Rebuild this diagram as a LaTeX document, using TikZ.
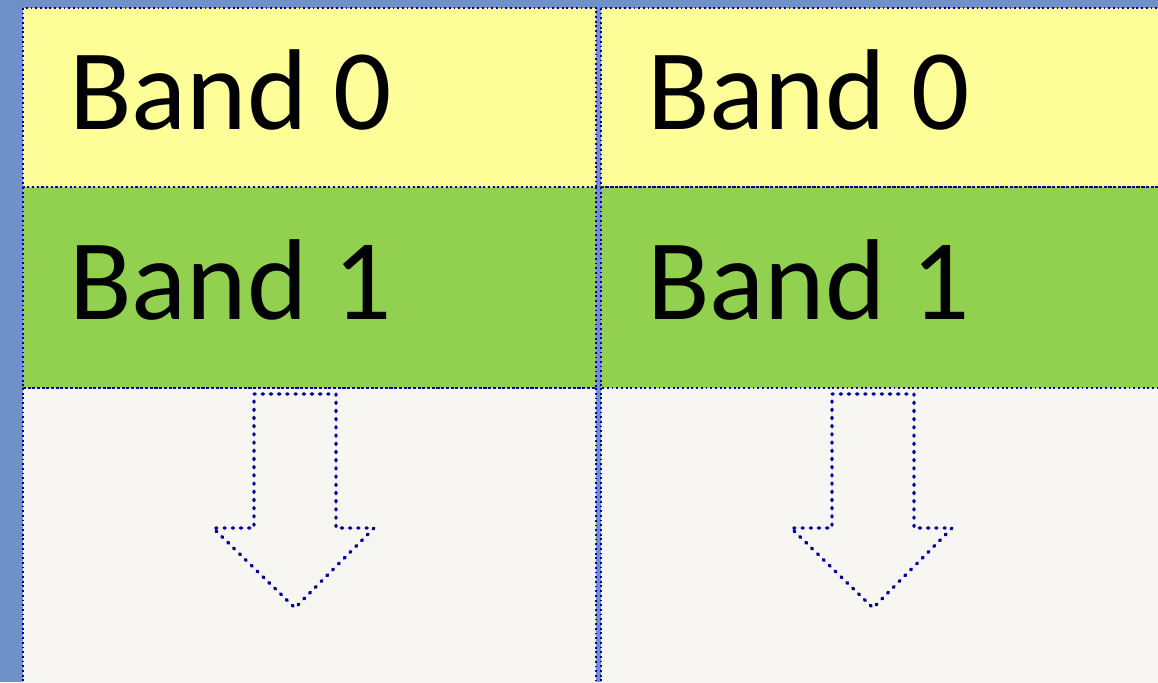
\documentclass[tikz,border=0pt]{standalone}
\usepackage{fontspec}
\setmainfont{Carlito}
\definecolor{bgblue}{HTML}{6F90C8}
\definecolor{bandyellow}{HTML}{FFFF99}
\definecolor{bandgreen}{HTML}{92D050}
\definecolor{bandgrey}{HTML}{F7F6F3}
\definecolor{dotblue}{HTML}{000099}
\begin{document}
\begin{tikzpicture}[x=1pt,y=-1pt,
  bandedge/.style={draw=dotblue,line width=1.5pt,dash pattern=on 1.8pt off 2.9pt},
  arrowline/.style={draw=dotblue,line width=3.4pt,line cap=round,line join=round,dash pattern=on 1.2pt off 7pt},
  bandlabel/.style={anchor=base west,inner sep=0pt,font=\fontsize{115}{115}\selectfont}]
\useasboundingbox (0,0) rectangle (1158,682);
\fill[bgblue] (0,0) rectangle (1158,682);
\foreach \c/\xa/\xb in {a/23/596,b/601/1170}{
  \fill[bandyellow] (\xa,8) rectangle (\xb,187);
  \fill[bandgreen] (\xa,187) rectangle (\xb,388);
  \fill[bandgrey] (\xa,388) rectangle (\xb,690);
  \path[bandedge] (\xa,8) rectangle (\xb,187);
  \path[bandedge] (\xa,187) rectangle (\xb,388);
  \path[bandedge] (\xa,388) rectangle (\xb,690);
}
\node[bandlabel] (b0a) at (69,129) {Band 0};
\node[bandlabel] (b1a) at (69,319) {Band 1};
\node[bandlabel] (b0b) at (647,129) {Band 0};
\node[bandlabel] (b1b) at (647,319) {Band 1};
\foreach \dx in {0,578}{
  \path[arrowline] (254+\dx,394) -- (336+\dx,394) -- (336+\dx,528) -- (374+\dx,528)
     -- (295+\dx,608) -- (213+\dx,528) -- (254+\dx,528) -- cycle;
}
\end{tikzpicture}
\end{document}
